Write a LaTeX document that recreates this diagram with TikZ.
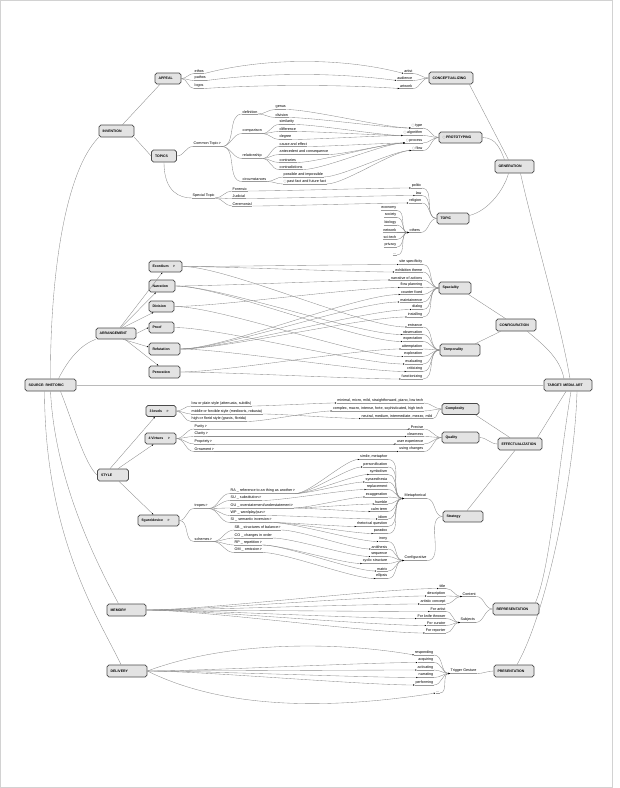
\documentclass[tikz,border=0pt]{standalone}
\usepackage{fontspec}
\setmainfont{Liberation Sans}
\newfontfamily\djv{DejaVu Sans}
\usetikzlibrary{arrows.meta}
\definecolor{boxfill}{HTML}{E3E3E3}
\definecolor{boxline}{HTML}{4A4A4A}
\definecolor{lg}{HTML}{8C8C8C}
\definecolor{ulg}{HTML}{9A9A9A}
\newcommand{\nt}{\,{\djv\fontsize{2.8}{3}\selectfont ℙ}}
\newcommand{\ci}{{\djv\fontsize{3.4}{3.6}\selectfont\color{gray}○}\,}
\tikzset{
  box/.style={draw=boxline, line width=0.7pt, rounded corners=1.8pt, fill=boxfill, inner xsep=3.5pt, inner ysep=0pt, font=\bfseries\fontsize{3.5}{4}\selectfont},
  ul/.style={draw=ulg, line width=0.3pt},
  lb/.style={font=\fontsize{3.7}{4}\selectfont, inner xsep=0.5pt, inner ysep=0.7pt, append after command={(\tikzlastnode.south west) edge[ul] (\tikzlastnode.south east)}},
  cn/.style={draw=lg, line width=0.35pt},
  ar/.style={cn, -{Latex[length=1.7pt,width=1.4pt,color=black]}},
  xl/.style={out=0, in=180, looseness=0.5},
  br/.style={out=0, in=180},
}
\newcommand{\bx}[5]{\node[box, minimum height=#5pt] (#1) at (#2) {\makebox[\dimexpr#4pt-7pt\relax][l]{#3}};}
\newcommand{\lbw}[3]{\node[lb, anchor=south west] (#1) at (#2) {#3};}
\newcommand{\lbe}[3]{\node[lb, anchor=south east] (#1) at (#2) {#3};}
\begin{document}
\begin{tikzpicture}[x=1pt,y=-1pt]
\useasboundingbox (0,0) rectangle (620,788);
\draw[gray!35, line width=0.6pt] (0.5,0.5) rectangle (612.5,787.5);

% ---------- boxes
\bx{appeal}{168,78.5}{APPEAL}{26}{11}
\bx{concept}{451,78}{CONCEPTUALIZING}{44}{12}
\bx{invention}{116.5,131}{INVENTION}{35}{12}
\bx{topics}{164,156}{TOPICS}{25}{12}
\bx{proto}{460.5,137.5}{\ci PROTOTYPING}{43}{11}
\bx{generation}{514.5,166.5}{GENERATION}{39}{13}
\bx{topic}{453,218.5}{TOPIC}{32}{11}
\bx{arrangement}{116,333.5}{ARRANGEMENT}{40}{11}
\bx{exordium}{165.5,266.5}{Exordium\hspace{4pt}\nt}{33}{11}
\bx{narration}{162,286}{Narration}{26}{12}
\bx{division}{161.5,306.5}{Division}{25}{11}
\bx{proof}{161.5,327.5}{Proof}{25}{11}
\bx{refutation}{164.5,349}{Refutation}{31}{12}
\bx{peroration}{164.5,372}{Peroration}{31}{12}
\bx{spaciality}{455,288}{Spaciality}{32}{12}
\bx{configuration}{516,325}{CONFIGURATION}{40}{12}
\bx{temporality}{460,350}{Temporality}{40}{12}
\bx{source}{50.5,385}{SOURCE: RHETORIC}{51}{12}
\bx{target}{568,385}{TARGET: MEDIA ART}{48}{12}
\bx{complexity}{460.5,409}{Complexity}{37}{11}
\bx{quality}{460.5,437.5}{Quality}{37}{11}
\bx{effect}{520,444}{EFFECTUALIZATION}{44}{12}
\bx{levels}{161,411}{3 levels\hspace{4pt}\nt}{30}{11}
\bx{virtues}{160.5,438.5}{4 Virtues\hspace{4pt}\nt}{31}{11}
\bx{style}{113,475}{STYLE}{31}{12}
\bx{figdev}{158.5,520.5}{figure/device\hspace{4pt}\nt}{41}{11}
\bx{strategy}{463,516.5}{Strategy}{40}{11}
\bx{memory}{126.5,610}{MEMORY}{39}{12}
\bx{repr}{516,609}{REPRESENTATION}{46}{12}
\bx{delivery}{127,671}{DELIVERY}{40}{12}
\bx{present}{514,671}{PRESENTATION}{40}{12}

% ---------- appeal
\lbw{ethos}{194,73.5}{ethos}
\lbw{pathos}{194,80.5}{pathos}
\lbw{logos}{194,88.5}{logos}
\lbe{artist}{413,73.5}{artist}
\lbe{audience}{413,80.5}{audience}
\lbe{artwork}{413,88.5}{artwork}

% ---------- common topic
\lbw{common}{193,146.5}{Common Topic\nt}
\lbw{definition}{242,114}{definition}
\lbw{comparison}{242,133.5}{comparison}
\lbw{relationship}{242,158.5}{relationship}
\lbw{circum}{242,181.5}{circumstances}
\lbw{genus}{275,109.5}{genus}
\lbw{divis}{275,117.5}{division}
\lbw{similarity}{279,124.5}{similarity}
\lbw{difference}{279,131.5}{difference}
\lbw{degree}{279,139.5}{degree}
\lbw{cause}{279,146.5}{cause and effect}
\lbw{antec}{279,154.5}{antecedent and consequence}
\lbw{contraries}{279,162.5}{contraries}
\lbw{contrad}{279,169.5}{contradictions}
\lbw{possible}{283,177}{possible and impossible}
\lbw{past}{283,184}{\ci past fact and future fact}
\lbe{type}{423,128}{\ci type}
\lbe{algorithm}{423,135.5}{\ci algorithm}
\lbe{process}{423,143}{\ci process}
\lbe{flow}{423,150.5}{\ci flow}

% ---------- special topic
\lbw{special}{192,198}{Special Topic}
\lbw{forensic}{232,191}{Forensic}
\lbw{judicial}{232,198.5}{Judicial}
\lbw{ceremonial}{232,206}{Ceremonial}
\lbe{politic}{422,188}{politic}
\lbe{law}{422,195.5}{law}
\lbe{religion}{422,203}{religion}
\lbw{others}{409,232.5}{others}
\lbe{economy}{397,210.5}{economy}
\lbe{society}{397,217.5}{society}
\lbe{biology}{397,225}{biology}
\lbe{network}{397,232.5}{network}
\lbe{scitech}{397,239.5}{sci-tech}
\lbe{privacy}{397,247}{privacy}
\lbe{etc}{397,255}{...\hspace{8pt}}

% ---------- arrangement targets
\foreach \n/\y/\t in {s1/264.5/site specificity, s2/272/exhibition theme, s3/280/narrative of actions, s4/287.5/flow planning, s5/294.5/counter fixed, s6/302/maintainence, s7/309.5/dialog, s8/317/installing, t1/327/entrance, t2/334.5/observation, t3/341.5/expectation, t4/349/attemptation, t5/356.5/exploration, t6/364/evaluating, t7/371.5/criticizing, t8/379/functionizing}
  \node[lb, anchor=south east] (\n) at (423,\y) {\t};

% ---------- style
\lbw{low}{191,406}{low or plain style (attenuata, subtilis)}
\lbw{middle}{191,414}{middle or forcible style (mediocris, robusta)}
\lbw{high}{191,421.5}{high or florid style (gravis, florida)}
\lbe{minimal}{424,403}{minimal, micro, mild, straightforward, piano, low tech}
\lbe{complex}{424,411}{complex, macro, intense, forte, sophisticated, high tech}
\lbe{neutral}{433,418.5}{neutral, medium, intermediate, mezzo, mild}
\lbw{purity}{194,429}{Purity\nt}
\lbw{clarity}{194,436.5}{Clarity\nt}
\lbw{propriety}{194,444}{Propriety\nt}
\lbw{ornament}{194,451.5}{Ornament\nt}
\lbe{precise}{424,429}{Precise}
\lbe{clearness}{424,436.5}{clearness}
\lbe{userexp}{424,444}{user experience}
\lbe{using}{424,451.5}{using changes}

\lbw{tropes}{194,508.5}{tropes\nt}
\lbw{schemes}{194,541.5}{schemes\nt}
\lbw{ra}{230,493.5}{RA \_ reference to an thing as another\nt}
\lbw{su}{230,500.5}{SU \_ substitution\nt}
\lbw{ou}{230,508}{OU \_ overstatement/understatement\nt}
\lbw{wp}{230,515.5}{WP \_ wordplay/pun\nt}
\lbw{si}{230,522.5}{SI \_ semantic inversion\nt}
\lbw{sb}{234,530}{SB \_ structures of balance\nt}
\lbw{co}{234,538}{CO \_ changes in order}
\lbw{rp}{234,545}{RP \_ repetition\nt}
\lbw{om}{234,552.5}{OM \_ omission\nt}
\foreach \n/\y/\t in {m1/459.5/{simile, metaphor}, m2/467/personification, m3/474.5/symbolism, m4/482/synaesthesia, m5/489.5/replacement, m6/497/exaggeration, m7/504/humble, m8/511.5/calm term, m9/519/idiom, m10/526.5/rhetorical question, m11/533.5/paradox, c1/541.5/irony, c2/549/antithesis, c3/556.5/sequence, c4/563.5/cyclic structure, c5/571/matrix, c6/578.5/ellipsis}
  \node[lb, anchor=south east] (\n) at (388,\y) {\t};
\lbw{metaph}{404,498.5}{Metaphorical}
\lbw{configur}{404,560.5}{Configurative}

% ---------- memory
\lbe{title}{446,588.5}{title}
\lbe{description}{446,596}{description}
\lbe{artistic}{446,604}{artistic concept}
\lbw{content}{462,596.5}{Content}
\lbe{forartist}{446,611.5}{For artist}
\lbe{forknife}{446,618.5}{For knife thrower}
\lbe{forcurator}{446,625.5}{For curator}
\lbe{forreporter}{446,633}{For reporter}
\lbw{subjects}{460,622.5}{Subjects}

% ---------- delivery
\lbe{responding}{434,655}{responding}
\lbe{acquiring}{434,662.5}{acquiring}
\lbe{activating}{434,670}{activating}
\lbe{narrating}{434,677.5}{narrating}
\lbe{performing}{434,685}{performing}
\lbe{dots2}{440,693}{...\hspace{8pt}}
\lbw{trigger}{450,673.5}{Trigger Gesture}

% ================= connectors
% spine
\draw[cn] (source.north) .. controls (50,290) and (62,175) .. (invention.south west);
\draw[cn] ([xshift=8pt]source.north) .. controls (68,360) and (80,345) .. (arrangement.south west);
\draw[cn] ([xshift=10pt]source.south) .. controls (72,420) and (85,465) .. (style.west);
\draw[cn] (source.south) .. controls (55,480) and (95,560) .. ([xshift=-8pt]memory.north);
\draw[cn] ([xshift=-6pt]source.south) .. controls (45,540) and (100,620) .. ([xshift=-6pt]delivery.north);
\draw[draw=lg!60, line width=0.5pt] (source.east) -- (target.west);

\draw[cn] ([xshift=-4pt]concept.south east) -- ([xshift=-6pt]generation.north);
\draw[cn] (proto.east) .. controls +(14,0) and +(-4,-10) .. ([xshift=-10pt]generation.north);
\draw[cn] ([yshift=3pt]topic.east) .. controls +(20,-5) and +(-4,15) .. ([xshift=-6pt]generation.south);
\draw[cn] ([xshift=6pt]generation.south) .. controls (533,230) and (560,320) .. ([xshift=2pt]target.north);
\draw[cn] ([xshift=-3pt]spaciality.south east) -- ([xshift=10pt]configuration.north west);
\draw[cn] ([xshift=-5pt]temporality.north east) -- ([xshift=5pt]configuration.south west);
\draw[cn] ([xshift=-9pt]configuration.south east) .. controls +(18,15) and +(-4,-20) .. ([xshift=-4pt]target.north);
\draw[cn] ([xshift=-4pt]complexity.south east) -- ([xshift=-10pt]effect.north);
\draw[cn] (quality.east) to[br] (effect.west);
\draw[cn] ([xshift=4pt]strategy.north) -- ([xshift=-5pt]effect.south);
\draw[cn] ([xshift=-5pt]effect.north east) -- ([xshift=-2pt]target.south);
\draw[cn] ([xshift=-4pt]repr.north east) .. controls (550,570) and (558,470) .. ([xshift=3pt]target.south);
\draw[cn] ([xshift=3pt]present.north) .. controls (548,610) and (575,470) .. ([xshift=9pt]target.south);

% invention
\draw[cn] ([xshift=6pt]invention.north) -- ([xshift=-8pt]appeal.south);
\draw[cn] (invention.south east) -- (topics.west);
\foreach \n in {ethos,pathos,logos} \draw[cn] (appeal.east) to[br] (\n.south west);
\draw[ar] (ethos.south east) .. controls +(60,-16) and +(-60,-16) .. (artist.south west);
\draw[ar] (pathos.south east) .. controls +(60,-8) and +(-60,-8) .. (audience.south west);
\draw[ar] (logos.south east) .. controls +(60,-4) and +(-60,-4) .. (artwork.south west);
\foreach \n in {artist,audience,artwork} \draw[cn] (\n.south east) to[br] (concept.west);

\draw[cn] (topics.east) to[br] (common.south west);
\draw[cn] (topics.south) .. controls +(0,30) and +(-12,0) .. (special.south west);
\foreach \n in {definition,comparison,relationship,circum} \draw[cn] (common.south east) to[br] (\n.south west);
\foreach \a/\b in {definition/genus,definition/divis,comparison/similarity,comparison/difference,comparison/degree,relationship/cause,relationship/antec,relationship/contraries,relationship/contrad,circum/possible,circum/past} \draw[cn] (\a.south east) to[br] (\b.south west);
\foreach \a/\b in {genus/type,divis/type,similarity/algorithm,difference/algorithm,degree/algorithm,cause/process,antec/process,contraries/process,contrad/process,possible/flow,past/flow} \draw[ar] (\a.south east) to[xl] (\b.south west);
\foreach \n in {type,algorithm,process,flow} \draw[cn] (\n.south east) to[br] (proto.west);

\foreach \n in {forensic,judicial,ceremonial} \draw[cn] (special.south east) to[br] (\n.south west);
\foreach \a/\b in {forensic/politic,judicial/law,ceremonial/religion} \draw[ar] (\a.south east) to[xl] (\b.south west);
\foreach \n in {politic,law,religion,others} \draw[cn] (\n.south east) to[br] (topic.west);
\foreach \n in {economy,society,biology,network,scitech,privacy,etc} \draw[ar] (\n.south east) to[br] (others.south west);

% arrangement
\draw[ar] ([xshift=4pt]arrangement.north) -- ([xshift=-3pt]exordium.south);
\draw[ar] ([xshift=5pt]arrangement.north) -- ([xshift=-6pt]narration.south);
\draw[ar] ([xshift=7pt]arrangement.north) -- ([xshift=-8pt]division.south);
\draw[ar] (arrangement.east) -- (proof.west);
\draw[ar] ([xshift=7pt]arrangement.south) -- ([yshift=2pt]refutation.west);
\draw[ar] ([xshift=9pt]arrangement.south) -- ([xshift=-6pt]peroration.north);
\foreach \a/\b in {exordium/s1,exordium/s2,exordium/t1,narration/s3,narration/t2,narration/t3,division/s4,division/t5,proof/t6,refutation/s5,refutation/s6,refutation/s7,refutation/s8,refutation/t7,peroration/t8,peroration/t4} \draw[ar] (\a.east) to[xl] (\b.south west);
\foreach \i in {1,...,8} \draw[cn] (s\i.south east) to[br] (spaciality.west);
\foreach \i in {1,...,8} \draw[cn] (t\i.south east) to[br] (temporality.west);

% style
\draw[ar] ([xshift=-3pt]style.north) -- ([xshift=-6pt]levels.south);
\draw[ar] ([xshift=5pt]style.north) -- ([xshift=-7pt]virtues.south);
\draw[ar] ([xshift=6pt]style.south) -- ([xshift=-5pt]figdev.north);
\foreach \n in {low,middle,high} \draw[cn] (levels.east) to[br] (\n.south west);
\foreach \a/\b in {low/minimal,middle/neutral,high/complex} \draw[ar] (\a.south east) to[xl] (\b.south west);
\foreach \n in {minimal,complex,neutral} \draw[cn] (\n.south east) to[br] (complexity.west);
\foreach \n in {purity,clarity,propriety,ornament} \draw[cn] (virtues.east) to[br] (\n.south west);
\foreach \a/\b in {purity/precise,clarity/clearness,propriety/userexp,ornament/using} \draw[ar] (\a.south east) to[xl] (\b.south west);
\foreach \n in {precise,clearness,userexp,using} \draw[cn] (\n.south east) to[br] (quality.west);
\foreach \n in {tropes,schemes} \draw[cn] (figdev.east) to[br] (\n.south west);
\foreach \n in {ra,su,ou,wp,si} \draw[cn] (tropes.south east) to[br] (\n.south west);
\foreach \n in {sb,co,rp,om} \draw[cn] (schemes.south east) to[br] (\n.south west);
\foreach \a/\b in {ra/m1,ra/m2,ra/m3,ra/m4,su/m5,ou/m6,ou/m7,ou/m8,wp/m9,si/m10,si/m11,si/c1,sb/c2,co/c3,rp/c4,rp/c5,om/c6} \draw[ar] (\a.south east) to[xl] (\b.south west);
\foreach \i in {1,...,11} \draw[ar] (m\i.south east) to[br] (metaph.south west);
\foreach \i in {1,...,6} \draw[ar] (c\i.south east) to[br] (configur.south west);
\foreach \n in {metaph,configur} \draw[cn] (\n.south east) to[br] (strategy.west);

% memory
\foreach \n in {title,description,artistic,forartist,forknife,forcurator,forreporter} \draw[ar] (memory.east) to[xl] (\n.south west);
\foreach \n in {title,description,artistic} \draw[ar] (\n.south east) to[br] (content.south west);
\foreach \n in {forartist,forknife,forcurator,forreporter} \draw[ar] (\n.south east) to[br] (subjects.south west);
\draw[cn] (content.south east) to[br] (repr.west);
\draw[cn] (subjects.south east) to[br] (repr.west);

% delivery
\draw[ar] (delivery.east) .. controls (230,640) and (340,642) .. (responding.south west);
\foreach \n in {acquiring,activating,narrating,performing} \draw[ar] (delivery.east) to[xl] (\n.south west);
\draw[ar] (delivery.east) .. controls (230,712) and (340,708) .. (dots2.south west);
\foreach \n in {responding,acquiring,activating,narrating,performing,dots2} \draw[ar] (\n.south east) to[br] (trigger.south west);
\draw[cn] (trigger.south east) to[br] (present.west);
\end{tikzpicture}
\end{document}
